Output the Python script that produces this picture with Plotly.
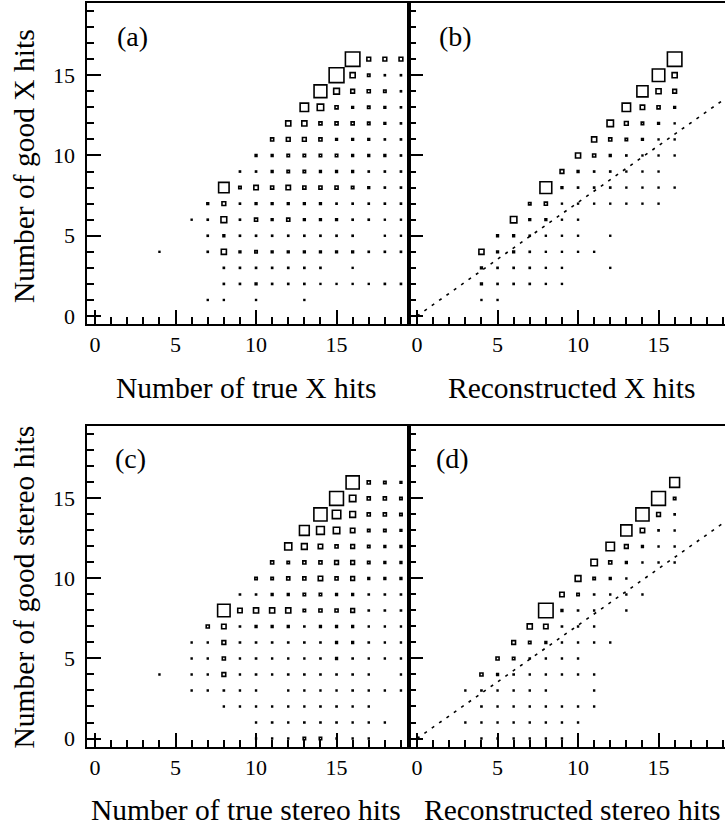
import plotly.graph_objects as go

# ---------------- data (relative bin content, 0-100) ----------------
# Panel (a): good X hits (rows) vs number of true X hits
a_rows = [16, 15, 14, 13, 12, 11, 10, 9, 8, 7, 6, 5, 4, 3, 2, 1]
a_x = [
    [16, 17, 18, 19],
    [15, 16, 17, 18, 19],
    [14, 15, 16, 17, 18, 19],
    [13, 14, 15, 16, 17, 18, 19],
    [12, 13, 14, 15, 16, 17, 18, 19],
    [11, 12, 13, 14, 15, 16, 17, 18, 19],
    [10, 11, 12, 13, 14, 15, 16, 17, 18, 19],
    [9, 10, 11, 12, 13, 14, 15, 16, 17, 18, 19],
    [8, 9, 10, 11, 12, 13, 14, 15, 16, 17, 18, 19],
    [7, 8, 9, 10, 11, 12, 13, 14, 15, 16, 17, 18, 19],
    [6, 7, 8, 9, 10, 11, 12, 13, 14, 15, 16, 17, 18, 19],
    [7, 8, 9, 10, 11, 12, 13, 14, 15, 16, 18, 19],
    [4, 7, 8, 9, 10, 11, 12, 13, 14, 15, 16, 17, 18, 19],
    [8, 9, 10, 11, 12, 13, 14, 16],
    [8, 9, 10, 11, 12, 13, 14, 15, 16, 17, 18, 19],
    [7, 8, 10, 13],
]
a_z = [
    [96, 32, 32, 32],
    [98, 40, 24, 16, 16],
    [86, 44, 32, 28, 24, 16],
    [60, 48, 28, 20, 24, 20, 16],
    [40, 40, 28, 28, 28, 24, 20, 16],
    [28, 32, 32, 28, 20, 20, 20, 16, 16],
    [20, 20, 24, 24, 24, 24, 20, 20, 20, 16],
    [16, 16, 20, 24, 24, 20, 20, 20, 16, 16, 16],
    [72, 24, 36, 28, 36, 28, 28, 28, 24, 20, 16, 16],
    [20, 32, 16, 20, 20, 20, 20, 20, 16, 16, 16, 16, 16],
    [8, 16, 44, 16, 28, 20, 28, 20, 20, 20, 16, 16, 8, 8],
    [16, 20, 16, 16, 16, 16, 16, 16, 16, 16, 8, 12],
    [12, 16, 40, 20, 24, 20, 20, 20, 20, 20, 20, 16, 16, 16],
    [16, 16, 16, 16, 16, 16, 16, 12],
    [16, 16, 20, 16, 16, 16, 12, 12, 12, 12, 16, 16],
    [12, 12, 12, 12],
]

# Panel (b): good X hits vs reconstructed X hits
b_rows = [16, 15, 14, 13, 12, 11, 10, 9, 8, 7, 6, 5, 4, 3, 2, 1]
b_x = [
    [16],
    [15, 16],
    [14, 15, 16],
    [13, 14, 15, 16],
    [12, 13, 14, 15, 16],
    [11, 12, 13, 14, 15, 16],
    [10, 11, 12, 13, 14, 15, 16],
    [9, 10, 11, 12, 13, 14, 15],
    [8, 9, 10, 11, 12, 13, 14, 15, 16],
    [7, 8, 9, 10, 11, 12, 13, 14, 15],
    [6, 7, 8, 9, 10],
    [5, 6, 7, 8, 9, 10, 12],
    [4, 5, 6, 7, 8, 9, 10, 11],
    [4, 5, 6, 7, 8, 9, 12],
    [4, 5, 6, 7, 8, 9],
    [4, 5],
]
b_z = [
    [96],
    [84, 40],
    [76, 40, 32],
    [60, 36, 28, 20],
    [48, 32, 24, 20, 12],
    [40, 28, 24, 20, 12, 12],
    [40, 28, 20, 16, 12, 12, 8],
    [32, 20, 16, 16, 12, 12, 12],
    [80, 20, 16, 16, 16, 12, 12, 12, 12],
    [24, 28, 12, 12, 12, 12, 12, 12, 12],
    [48, 20, 20, 12, 12],
    [20, 20, 16, 12, 12, 12, 12],
    [40, 20, 20, 16, 12, 6, 12, 12],
    [20, 16, 16, 16, 12, 8, 6],
    [20, 16, 16, 16, 8, 8],
    [12, 12],
]

# Panel (c): good stereo hits vs number of true stereo hits
c_rows = [16, 15, 14, 13, 12, 11, 10, 9, 8, 7, 6, 5, 4, 3, 2, 1, 0]
c_x = [
    [16, 17, 18, 19],
    [15, 16, 17, 18, 19],
    [14, 15, 16, 17, 18, 19],
    [13, 14, 15, 16, 17, 18, 19],
    [12, 13, 14, 15, 16, 17, 18, 19],
    [11, 12, 13, 14, 15, 16, 17, 18, 19],
    [10, 11, 12, 13, 14, 15, 16, 17, 18, 19],
    [9, 10, 11, 12, 13, 14, 15, 16, 17, 18, 19],
    [8, 9, 10, 11, 12, 13, 14, 15, 16, 17, 18, 19],
    [7, 8, 9, 10, 11, 12, 13, 14, 15, 16, 17, 18, 19],
    [6, 7, 8, 9, 10, 11, 12, 13, 14, 15, 16, 17, 18, 19],
    [6, 7, 8, 9, 10, 11, 12, 13, 14, 15, 16, 17, 18, 19],
    [4, 6, 7, 8, 9, 10, 11, 12, 13, 14, 15, 16, 17, 19],
    [6, 7, 8, 9, 10, 12, 13, 14, 15, 16, 17, 18, 19],
    [8, 9, 10, 11, 12, 13, 14, 15, 16, 17],
    [10, 11, 12, 13, 14, 15, 16, 17, 18],
    [10, 11, 12, 13, 14, 15, 16, 17],
]
c_z = [
    [88, 28, 24, 20],
    [92, 48, 28, 28, 24],
    [88, 60, 44, 28, 28, 24],
    [68, 56, 48, 36, 24, 24, 20],
    [52, 44, 36, 28, 32, 24, 20, 20],
    [28, 24, 28, 28, 32, 32, 24, 20, 20],
    [24, 24, 28, 28, 36, 28, 32, 20, 20, 20],
    [16, 16, 20, 20, 24, 24, 20, 20, 16, 16, 16],
    [84, 36, 40, 40, 40, 24, 28, 28, 32, 16, 16, 16],
    [28, 36, 16, 20, 20, 20, 16, 20, 20, 20, 12, 12, 12],
    [12, 12, 32, 16, 16, 16, 16, 16, 16, 20, 20, 16, 12, 12],
    [12, 12, 28, 12, 16, 12, 12, 12, 16, 20, 16, 12, 12, 12],
    [12, 12, 12, 32, 12, 16, 12, 16, 16, 16, 16, 16, 12, 12],
    [8, 8, 16, 12, 12, 12, 12, 12, 12, 16, 12, 12, 12],
    [12, 12, 12, 12, 12, 12, 16, 16, 12, 12],
    [12, 16, 12, 16, 16, 16, 12, 12, 8],
    [10, 10, 10, 24, 24, 12, 12, 10],
]

# Panel (d): good stereo hits vs reconstructed stereo hits
d_rows = [16, 15, 14, 13, 12, 11, 10, 9, 8, 7, 6, 5, 4, 3, 2, 1, 0]
d_x = [
    [16],
    [15, 16],
    [14, 15, 16],
    [13, 14, 15, 16],
    [12, 13, 14, 15, 16],
    [11, 12, 13, 14, 15, 16],
    [10, 11, 12, 13],
    [9, 10, 11, 12, 13, 14],
    [8, 9, 10, 11, 13],
    [7, 8, 9, 10, 11],
    [6, 7, 8, 9, 10, 11, 12],
    [5, 6, 7, 8, 9, 10],
    [4, 5, 6, 7, 8, 9, 10, 11],
    [3, 4, 5, 6, 7, 8, 11],
    [4, 5, 6, 7, 8, 9, 10, 11],
    [3, 4, 5, 6, 7, 8, 9, 10],
    [4, 5, 6, 7, 8, 9],
]
d_z = [
    [68],
    [92, 24],
    [88, 32, 16],
    [76, 36, 16, 8],
    [60, 32, 20, 12, 8],
    [48, 28, 20, 12, 12, 8],
    [44, 24, 20, 12],
    [36, 24, 16, 12, 12, 12],
    [96, 20, 16, 12, 12],
    [40, 36, 16, 12, 12],
    [32, 24, 20, 12, 12, 6, 6],
    [28, 24, 16, 12, 12, 12],
    [28, 20, 16, 12, 12, 12, 12, 6],
    [6, 16, 12, 12, 12, 12, 8],
    [16, 12, 12, 12, 12, 6, 12, 8],
    [12, 12, 12, 12, 12, 12, 12, 12],
    [10, 12, 12, 12, 12, 10],
]

# reference lines (good = ~0.71 x reconstructed)
ref_x = [0, 19.5]
ref_y = [0, 13.8]

panel_tags = ["(a)", "(b)", "(c)", "(d)"]
x_titles = ["Number of true X hits", "Reconstructed X hits",
            "Number of true stereo hits", "Reconstructed stereo hits"]
y_titles = ["Number of good X hits", "Number of good stereo hits"]
tick_vals = [0, 5, 10, 15]

# ---------------- layout geometry ----------------
W, H = 725, 835
FONT = "Liberation Serif"
CELL = 16.1          # pixels per bin
LW = 1.6             # box outline width

XA = [87 / W, 409 / W]
XB = [409 / W, 1.0]
YT = [1 - 326 / H, 1 - 3 / H]
YB = [1 - 751 / H, 1 - 429 / H]


def flatten(rows, xs, zs):
    fx, fy, fz = [], [], []
    for r, xr, zr in zip(rows, xs, zs):
        for xv, zv in zip(xr, zr):
            fx.append(xv)
            fy.append(r)
            fz.append(zv)
    return fx, fy, fz


def sizes(z):
    return [max(v / 100.0 * CELL * 1.04 - LW, 0.8) for v in z]


fig = go.Figure()
panels = [(a_rows, a_x, a_z, "x", "y"), (b_rows, b_x, b_z, "x2", "y2"),
          (c_rows, c_x, c_z, "x3", "y3"), (d_rows, d_x, d_z, "x4", "y4")]
for rows, xs, zs, xa, ya in panels:
    fx, fy, fz = flatten(rows, xs, zs)
    fig.add_trace(go.Scatter(
        x=fx, y=fy, mode="markers", xaxis=xa, yaxis=ya,
        marker=dict(symbol="square", size=sizes(fz), color="white", opacity=1,
                    line=dict(color="black", width=LW)),
        showlegend=False, hoverinfo="skip"))

for xa, ya in [("x2", "y2"), ("x4", "y4")]:
    fig.add_trace(go.Scatter(
        x=ref_x, y=ref_y, mode="lines", xaxis=xa, yaxis=ya,
        line=dict(color="black", width=1.6, dash="3px,6px"),
        showlegend=False, hoverinfo="skip"))

tickfont = dict(family=FONT, size=22, color="black")


def axis(domain, rng, anchor, labels=True, mirror=True, suffix=""):
    return dict(
        domain=domain, range=rng, anchor=anchor,
        showline=True, linecolor="black", linewidth=2, mirror=mirror,
        ticks="inside", ticklen=14, tickwidth=1.5, tickcolor="black",
        tickmode="array", tickvals=tick_vals,
        ticktext=[str(v) + suffix for v in tick_vals],
        minor=dict(ticks="inside", ticklen=7, tickwidth=1.5, tickcolor="black",
                   dtick=1, tick0=0, showgrid=False),
        showgrid=False, zeroline=False, showticklabels=labels,
        tickfont=tickfont, fixedrange=True)


RX_L = [-0.5, 19.5]
RX_R = [-0.5, -0.5 + (W - 409) / CELL]
RY = [-0.5, 19.5]
YSUF = "\u00a0"

fig.update_layout(
    width=W, height=H, autosize=False,
    margin=dict(l=0, r=0, t=0, b=0),
    paper_bgcolor="white", plot_bgcolor="white",
    xaxis=axis(XA, RX_L, "y"),
    yaxis=axis(YT, RY, "x", suffix=YSUF),
    xaxis2=axis(XB, RX_R, "y2"),
    yaxis2=axis(YT, RY, "x2", labels=False, mirror=False),
    xaxis3=axis(XA, RX_L, "y3"),
    yaxis3=axis(YB, RY, "x3", suffix=YSUF),
    xaxis4=axis(XB, RX_R, "y4"),
    yaxis4=axis(YB, RY, "x4", labels=False, mirror=False),
)

ann = []
tag_pos = [(132, 37), (455, 37), (130, 461), (452, 461)]
for t, (px, py) in zip(panel_tags, tag_pos):
    ann.append(dict(text=t, x=px / W, y=1 - py / H, xref="paper", yref="paper",
                    showarrow=False, xanchor="center", yanchor="middle",
                    font=dict(family=FONT, size=28, color="black")))
xt_pos = [(246, 390), (571, 390), (246, 815), (572, 815)]
for t, (px, py) in zip(x_titles, xt_pos):
    ann.append(dict(text=t, x=px / W, y=1 - py / H, xref="paper", yref="paper",
                    showarrow=False, xanchor="center", yanchor="middle",
                    font=dict(family=FONT, size=29.5, color="black")))
yt_pos = [(24, 167), (24, 591)]
for t, (px, py) in zip(y_titles, yt_pos):
    ann.append(dict(text=t, x=px / W, y=1 - py / H, xref="paper", yref="paper",
                    showarrow=False, xanchor="center", yanchor="middle",
                    textangle=-90,
                    font=dict(family=FONT, size=29.5, color="black")))
fig.update_layout(annotations=ann)

fig.write_html("out.html")
